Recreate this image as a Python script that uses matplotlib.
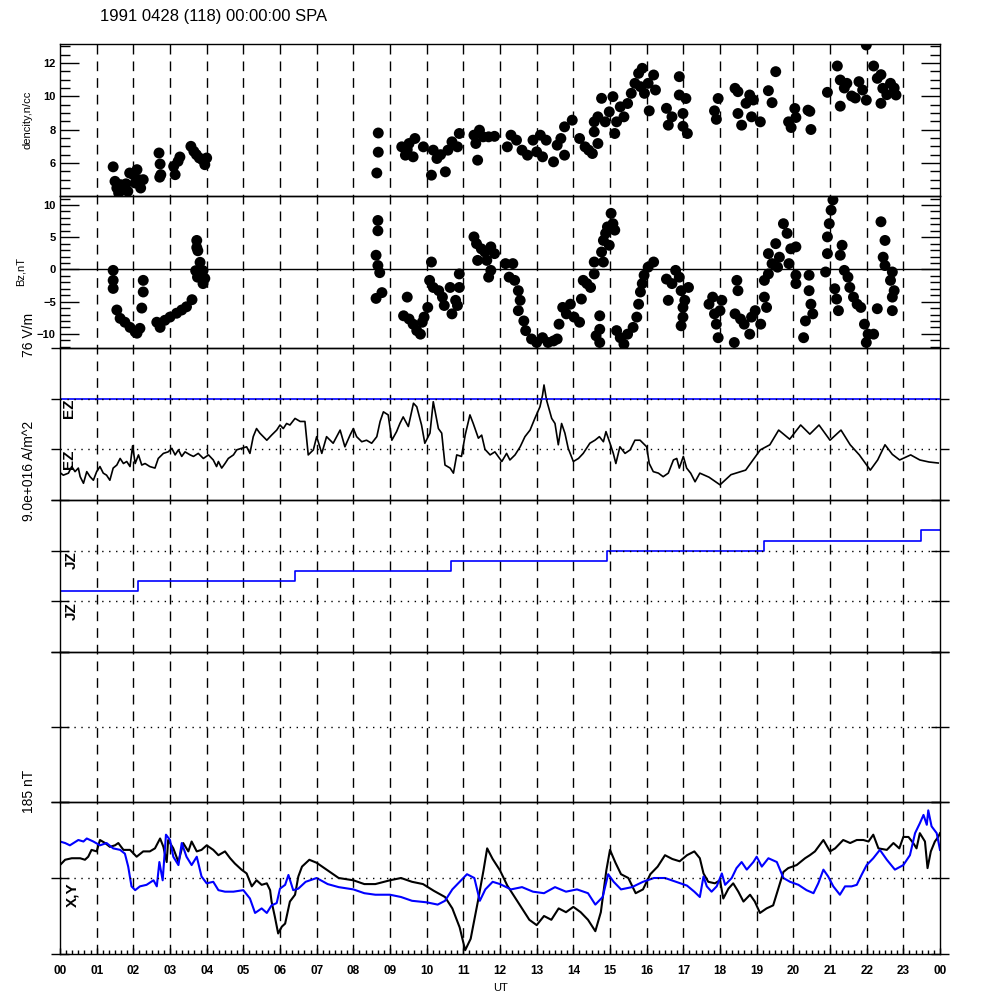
import numpy as np
import matplotlib.pyplot as plt

plt.rcParams['font.family'] = ['Liberation Sans', 'DejaVu Sans']

# ---- data (UT hours) ----
dens_t = [1.45, 1.5, 1.55, 1.6, 1.65, 1.7, 1.8, 1.85, 1.9, 2.0, 2.05, 2.1, 2.15, 2.2, 2.27,
          2.7, 2.73, 2.75, 2.72, 3.1, 3.14, 3.27, 3.22, 3.57, 3.65, 3.72, 3.8, 3.88, 3.95, 4.0,
          8.68, 8.68, 8.64,
          9.32, 9.42, 9.52, 9.68, 9.63, 9.47, 9.91,
          10.13, 10.18, 10.28, 10.38, 10.51, 10.58, 10.69, 10.84, 10.89,
          11.29, 11.34, 11.39, 11.44, 11.54, 11.69, 11.85,
          12.2, 12.3, 12.45, 12.6, 12.75, 12.9, 13.0, 13.1, 13.16, 13.26,
          13.46, 13.56, 13.66, 13.76, 13.76, 13.97,
          14.17, 14.32, 14.42, 14.57, 14.67, 14.52,
          14.57, 14.67, 14.77, 14.87, 14.98, 15.08, 15.13, 15.18, 15.28, 15.38, 15.48, 15.58,
          15.68, 15.78, 15.88, 15.83, 15.94, 16.04, 16.07, 16.19, 16.24,
          16.54, 16.59, 16.69, 16.89, 16.89, 16.99, 16.99, 17.07, 17.11,
          17.85, 17.9, 17.95,
          18.41, 18.49, 18.49, 18.59, 18.71, 18.81, 18.91, 18.86, 19.1,
          19.32, 19.42, 19.52,
          19.87, 19.94, 20.04, 20.07, 20.4, 20.45, 20.48,
          20.93, 21.2, 21.28, 21.28, 21.39, 21.46, 21.59, 21.69, 21.79, 21.89, 21.99, 21.99,
          22.19, 22.29, 22.39, 22.39, 22.44, 22.55, 22.65, 22.75, 22.8]
dens_v = [5.77, 4.9, 4.5, 4.2, 4.7, 4.4, 4.75, 4.3, 5.4, 5.3, 4.8, 5.6, 5.0, 4.5, 5.0,
          6.6, 5.94, 5.3, 5.15, 5.8, 5.3, 6.36, 6.1, 7.0, 6.7, 6.5, 6.3, 6.2, 5.9, 6.3,
          7.8, 6.65, 5.4,
          6.97, 6.47, 7.17, 7.47, 6.37, 6.8, 6.97,
          5.27, 6.77, 6.27, 6.5, 5.47, 6.77, 7.27, 6.97, 7.77,
          7.67, 7.17, 6.17, 7.97, 7.57, 7.57, 7.6,
          6.97, 7.67, 7.37, 6.77, 6.47, 7.37, 6.67, 7.67, 6.37, 7.37,
          6.07, 7.07, 7.47, 8.17, 6.47, 8.57,
          7.47, 6.97, 6.77, 7.87, 7.17, 6.57,
          8.47, 8.77, 9.88, 8.47, 9.07, 9.98, 7.77, 8.47, 9.37, 8.77, 9.57, 10.18,
          10.78, 11.38, 11.68, 10.58, 10.18, 10.78, 9.13, 11.28, 10.38,
          9.28, 8.27, 8.77, 11.18, 10.08, 8.97, 8.2, 9.87, 7.77,
          9.13, 8.62, 9.87,
          10.48, 10.28, 8.97, 8.27, 9.58, 10.08, 9.78, 8.77, 8.47,
          10.34, 9.62, 11.48,
          8.47, 8.13, 9.27, 8.73, 9.17, 9.1, 8.01,
          10.24, 11.82, 10.98, 9.41, 10.5, 10.78, 10.02, 9.9, 10.88, 10.38, 9.77, 13.08,
          11.82, 11.08, 11.3, 9.58, 10.48, 10.1, 10.78, 10.5, 10.08]

bz_t = [1.45, 1.45, 1.45, 1.55, 1.64, 1.77, 1.91, 2.05, 2.18, 2.1, 2.27, 2.27, 2.23,
        2.64, 2.73, 2.86, 3.0, 3.18, 3.32, 3.45, 3.6, 3.7, 3.73, 3.75,
        3.73, 3.76, 3.82, 3.9, 3.95, 3.9,
        8.67, 8.67, 8.62, 8.67, 8.72, 8.62, 8.78,
        9.47, 9.37, 9.52, 9.63, 9.73, 9.83, 9.88, 9.93, 10.03, 10.13, 10.08, 10.18, 10.33,
        10.43, 10.48, 10.64, 10.69, 10.79, 10.84, 10.89, 10.89,
        11.29, 11.36, 11.49, 11.59, 11.64, 11.75, 11.75, 11.69, 11.85, 11.39,
        12.15, 12.35, 12.25, 12.4, 12.5, 12.55, 12.5, 12.65, 12.7, 12.86, 13.0, 13.16,
        13.31, 13.46, 13.56,
        13.61, 13.71, 13.81, 13.92, 14.02, 14.17, 14.22,
        14.27, 14.37, 14.47, 14.57, 14.57, 14.82, 14.72, 14.72, 14.62, 14.72,
        14.77, 14.82, 14.88, 14.93, 15.03, 15.08, 15.13, 14.98,
        15.18, 15.28, 15.38, 15.48, 15.63, 15.73, 15.78, 15.83, 15.88, 15.93, 16.04, 16.19,
        16.54, 16.59, 16.69, 16.79, 16.89, 16.94, 17.04, 16.99, 16.99, 16.94, 17.14,
        17.7, 17.8, 17.85, 17.9, 17.95, 18.05, 18.0,
        18.39, 18.46, 18.49, 18.41, 18.56, 18.66, 18.81, 18.86, 18.96, 19.11, 19.21, 19.27,
        19.21, 19.32, 19.32, 19.42, 19.52, 19.57, 19.62, 19.73, 19.83, 19.93, 19.88, 20.07,
        20.07, 20.07, 20.43, 20.43, 20.48, 20.53, 20.33, 20.28,
        20.88, 20.93, 20.93, 20.98, 21.03, 21.08, 21.13, 21.18, 21.23, 21.28, 21.33, 21.39,
        21.49, 21.54, 21.64, 21.74, 21.84,
        21.94, 22.04, 21.99, 22.19, 22.29, 22.39, 22.5, 22.45, 22.5, 22.65, 22.7, 22.75,
        22.7, 22.7]
bz_v = [-0.15, -1.7, -2.95, -6.3, -7.6, -8.2, -9.0, -9.7, -9.15, -9.9, -1.7, -3.5, -6.0,
        -8.2, -9.0, -7.9, -7.4, -6.8, -6.3, -5.8, -4.7, -0.2, 3.4, -1.2,
        4.5, 2.9, 1.1, -0.2, -1.4, -2.2,
        7.6, 6.0, 2.2, 0.6, -0.5, -4.5, -3.6,
        -4.3, -7.2, -7.7, -8.5, -9.5, -10.05, -8.2, -7.4, -5.9, 1.15, -1.7, -2.8, -3.3,
        -4.3, -5.6, -2.8, -6.9, -4.8, -5.6, -2.8, -0.7,
        5.05, 4.0, 3.2, 2.7, 1.4, 3.5, -0.15, -1.2, 2.45, 1.4,
        0.9, 0.9, -1.2, -1.7, -3.3, -4.8, -6.4, -8.0, -9.5, -10.8, -11.35, -10.6,
        -11.35, -11.1, -10.8,
        -8.5, -5.9, -6.9, -5.4, -7.4, -8.2, -4.6,
        -1.7, -2.2, -2.8, -0.7, 1.15, 1.15, -7.2, -9.3, -10.3, -11.35,
        2.7, 4.5, 5.6, 6.6, 8.7, 7.1, 6.1, 3.75,
        -9.5, -10.6, -11.6, -10.05, -9.0, -7.4, -5.4, -3.5, -2.2, -0.9, 0.35, 1.15,
        -1.5, -4.8, -2.2, -0.15, -1.2, -3.3, -4.8, -5.9, -7.4, -8.75, -2.8,
        -5.4, -4.3, -6.9, -8.5, -10.6, -4.8, -6.4,
        -11.35, -1.7, -3.3, -6.9, -7.7, -8.5, -10.05, -7.4, -6.4, -8.5, -4.3, -5.9,
        -1.7, -0.7, 2.45, 0.9, 4.0, 0.35, 1.9, 7.1, 5.6, 3.2, 0.9, 3.5,
        -0.9, -2.2, -0.9, -3.3, -5.4, -6.9, -8.0, -10.6,
        -0.4, 2.45, 5.05, 7.1, 9.2, 10.8, -3.0, -4.6, -6.4, 2.2, 3.75, -0.15,
        -1.2, -2.8, -4.3, -5.4, -5.9,
        -8.5, -10.05, -11.35, -10.05, -6.1, 7.4, 4.5, 1.9, 0.6, -1.7, -0.4, -3.3,
        -4.3, -6.4]

ez_t = [0.02, 0.09, 0.23, 0.32, 0.41, 0.50, 0.55, 0.64, 0.73, 0.82, 0.91, 1.00, 1.09, 1.18,
        1.27, 1.36, 1.45, 1.55, 1.64, 1.73, 1.82, 1.91, 1.98, 2.05, 2.14, 2.23, 2.32, 2.45,
        2.59, 2.68, 2.82, 2.95, 3.05, 3.14, 3.23, 3.32, 3.41, 3.55, 3.64, 3.77, 3.91, 4.05,
        4.18, 4.27, 4.32, 4.41, 4.50, 4.59, 4.73, 4.82, 4.95, 5.09, 5.18, 5.27, 5.36, 5.45,
        5.64, 5.77, 5.91, 6.00, 6.09, 6.18, 6.27, 6.41, 6.55, 6.68, 6.77, 6.91, 7.00, 7.14,
        7.27, 7.45, 7.64, 7.77, 7.91, 8.00, 8.09, 8.23, 8.36, 8.50, 8.64, 8.73, 8.82, 8.95,
        9.05, 9.18, 9.27, 9.36, 9.5, 9.64, 9.73, 9.86, 9.95, 10.09, 10.18, 10.32, 10.41,
        10.5, 10.64, 10.73, 10.82, 10.95, 11.05, 11.18, 11.27, 11.41, 11.5, 11.59, 11.73,
        11.86, 12.05, 12.18, 12.27, 12.41, 12.55, 12.68, 12.82, 12.95, 13.09, 13.16, 13.2,
        13.27, 13.41, 13.5, 13.59, 13.68, 13.77, 13.86, 14.0, 14.14, 14.27, 14.45, 14.59,
        14.71, 14.82, 14.89, 15.0, 15.09, 15.16, 15.27, 15.41, 15.55, 15.68, 15.82, 16.0,
        16.07, 16.18, 16.32, 16.45, 16.59, 16.73, 16.82, 16.89, 17.0, 17.09, 17.2, 17.32,
        17.45, 17.7, 18.0, 18.3, 18.7, 19.1, 19.36, 19.6, 19.9, 20.2, 20.45, 20.7, 21.0,
        21.3, 21.55, 21.8, 22.1, 22.3, 22.5, 22.7, 22.9, 23.2, 23.45, 23.7, 23.95]
ez_v = [0.53, 0.49, 0.53, 0.66, 0.56, 0.63, 0.46, 0.33, 0.56, 0.46, 0.39, 0.56, 0.66, 0.53,
        0.49, 0.39, 0.63, 0.69, 0.82, 0.72, 0.76, 0.66, 1.07, 0.72, 0.89, 0.69, 0.72, 0.66,
        0.63, 0.82, 0.92, 0.95, 1.02, 0.89, 0.99, 0.86, 0.95, 0.89, 0.86, 0.92, 0.82, 0.89,
        0.79, 0.66, 0.76, 0.63, 0.72, 0.82, 0.89, 0.99, 1.02, 1.05, 0.92, 1.25, 1.41, 1.32,
        1.18, 1.28, 1.38, 1.48, 1.41, 1.51, 1.48, 1.61, 1.55, 1.55, 0.89, 0.99, 1.25, 0.92,
        1.25, 1.12, 1.38, 1.05, 1.28, 1.41, 1.25, 1.15, 1.18, 1.12, 1.25, 1.55, 1.74, 1.68,
        1.18, 1.35, 1.51, 1.64, 1.45, 1.91, 1.84, 1.48, 1.12, 1.32, 1.94, 1.41, 1.32,
        0.69, 0.63, 0.53, 0.89, 0.86, 1.28, 1.68, 1.51, 1.22, 1.28, 1.0, 0.89,
        0.95, 0.76, 0.92, 0.79, 0.89, 1.05, 1.25, 1.38, 1.61, 1.84, 2.07, 2.27,
        1.97, 1.61, 1.51, 1.09, 1.51, 1.32, 1.02, 0.76, 0.82, 0.92, 1.12, 1.18,
        1.25, 1.15, 1.35, 1.12, 0.92, 0.72, 1.05, 0.92, 0.99, 1.18, 1.18, 1.05,
        0.72, 0.56, 0.53, 0.46, 0.53, 0.79, 0.82, 0.63, 0.86, 0.63, 0.53, 0.36,
        0.53, 0.45, 0.3, 0.5, 0.59, 0.99, 1.09, 1.38, 1.2, 1.48, 1.3, 1.48, 1.18,
        1.38, 1.09, 0.89, 0.59, 0.79, 1.09, 0.9, 0.79, 0.89, 0.79, 0.75, 0.73]

jz_t = [0, 2.13, 6.4, 10.67, 14.93, 19.2, 23.47, 24]
jz_v = [1.2, 1.4, 1.6, 1.8, 2.0, 2.2, 2.4, 2.4]

x_t = [0, 0.14, 0.32, 0.55, 0.68, 0.77, 0.86, 1.0, 1.09, 1.23, 1.36, 1.5, 1.59, 1.73, 1.91,
       2.09, 2.27, 2.45, 2.59, 2.73, 2.82, 2.91, 2.95, 3.09, 3.23, 3.36, 3.5, 3.59, 3.73,
       3.86, 4.0, 4.18, 4.32, 4.5, 4.64, 4.77, 4.95, 5.09, 5.23, 5.36, 5.5, 5.64, 5.73, 5.77,
       5.86, 5.95, 6.05, 6.14, 6.27, 6.41, 6.5, 6.6, 6.8, 7.0, 7.3, 7.6, 8.0, 8.3, 8.6, 9.0,
       9.3, 9.6, 9.9, 10.2, 10.5, 10.7, 10.9, 11.05, 11.2, 11.4, 11.55, 11.65, 11.8, 12.0,
       12.2, 12.4, 12.6, 12.8, 13.0, 13.2, 13.4, 13.6, 13.8, 14.0, 14.2, 14.4, 14.6, 14.75,
       14.9, 15.0, 15.15, 15.3, 15.5, 15.7, 15.9, 16.1, 16.3, 16.5, 16.7, 16.9, 17.1, 17.3,
       17.45, 17.55, 17.68, 17.86, 18.0, 18.09, 18.23, 18.36, 18.5, 18.64,
       18.82, 18.95, 19.09, 19.27, 19.45, 19.59, 19.73, 19.86, 20.09, 20.32, 20.45, 20.59,
       20.82, 21.0, 21.14, 21.36, 21.55, 21.73, 21.91, 22.05, 22.18, 22.32, 22.55, 22.73,
       22.89, 23.0, 23.14, 23.27, 23.36, 23.45, 23.59, 23.66, 23.75, 23.86, 23.95, 24.0]
x_v = [1.17, 1.24, 1.26, 1.26, 1.24, 1.28, 1.37, 1.35, 1.5, 1.46, 1.41, 1.43, 1.46, 1.37, 1.37,
       1.28, 1.35, 1.35, 1.39, 1.52, 1.41, 1.21, 1.5, 1.39, 1.21, 1.46, 1.35, 1.48, 1.35,
       1.37, 1.43, 1.37, 1.3, 1.35, 1.26, 1.19, 1.11, 1.06, 0.89, 0.97, 0.91, 0.93, 0.84, 0.69,
       0.49, 0.27, 0.36, 0.4, 0.69, 0.78, 1.02, 1.15, 1.24, 1.2, 1.1, 1.0, 0.97, 0.92, 0.92, 0.97,
       1.0, 0.95, 0.92, 0.83, 0.75, 0.6, 0.35, 0.05, 0.2, 0.7, 1.1, 1.39, 1.25, 1.1,
       0.9, 0.75, 0.6, 0.45, 0.38, 0.5, 0.45, 0.6, 0.55, 0.62, 0.55, 0.45, 0.3, 0.55,
       1.1, 1.37, 1.2, 1.05, 1.0, 0.8, 0.85, 1.05, 1.15, 1.3, 1.25, 1.22, 1.3, 1.35,
       1.26, 1.06, 0.95, 0.93, 0.97, 0.73, 0.86, 0.93, 0.82, 0.69,
       0.78, 0.69, 0.54, 0.6, 0.64, 0.86, 1.08, 1.13, 1.17, 1.26, 1.3, 1.35,
       1.5, 1.35, 1.39, 1.5, 1.46, 1.5, 1.5, 1.48, 1.57, 1.39, 1.37, 1.46,
       1.39, 1.54, 1.54, 1.46, 1.39, 1.59, 1.48, 1.13, 1.35, 1.48, 1.54, 1.59]

y_t = [0, 0.14, 0.27, 0.5, 0.64, 0.73, 0.91, 1.09, 1.27, 1.45, 1.64, 1.77, 1.86, 1.95, 2.05,
       2.18, 2.36, 2.55, 2.64, 2.71, 2.8, 2.89, 3.0, 3.09, 3.23, 3.32, 3.45, 3.59, 3.73, 3.86,
       4.0, 4.18, 4.32, 4.5, 4.73, 5.0, 5.18, 5.32, 5.5, 5.64, 5.77, 5.91, 6.0, 6.14, 6.23,
       6.36, 6.5, 6.7, 7.0, 7.3, 7.6, 8.0, 8.3, 8.6, 9.0, 9.3, 9.6, 10.0, 10.3, 10.5, 10.7,
       10.9, 11.1, 11.3, 11.45, 11.6, 11.8, 12.0, 12.3, 12.6, 12.9, 13.2, 13.5, 13.8, 14.1,
       14.4, 14.6, 14.8, 14.95, 15.1, 15.3, 15.6, 15.9, 16.2, 16.5, 16.8, 17.1, 17.3,
       17.45, 17.55, 17.64, 17.77,
       17.91, 18.05, 18.14, 18.32, 18.45, 18.59, 18.73, 18.91, 19.0, 19.14, 19.32, 19.55,
       19.73, 19.91, 20.14, 20.36, 20.55, 20.68, 20.82, 20.95, 21.09, 21.27, 21.41, 21.59,
       21.73, 21.86, 22.0, 22.18, 22.36, 22.55, 22.77, 23.0, 23.18, 23.32, 23.45, 23.55,
       23.64, 23.68, 23.77, 23.91, 24.0]
y_v = [1.48, 1.46, 1.43, 1.5, 1.48, 1.52, 1.48, 1.43, 1.46, 1.39, 1.37, 1.32, 1.15, 0.89, 0.84,
       0.89, 0.91, 0.97, 0.89, 1.21, 0.97, 1.57, 1.5, 1.28, 1.17, 1.46, 1.28, 1.17, 1.28, 1.02,
       0.93, 0.95, 0.84, 0.82, 0.82, 0.84, 0.73, 0.54, 0.6, 0.54, 0.64, 0.67, 0.86, 0.91, 1.04,
       0.84, 0.86, 0.95, 1.0, 0.92, 0.88, 0.85, 0.8, 0.78, 0.78, 0.75, 0.7, 0.68, 0.65, 0.7, 0.85,
       0.95, 1.05, 1.0, 0.7, 0.85, 0.95, 0.92, 0.85, 0.88, 0.82, 0.8, 0.88, 0.82, 0.85,
       0.8, 0.65, 0.75, 1.05, 0.95, 0.85, 0.88, 0.95, 1.0, 1.0, 0.95, 0.9, 0.82,
       0.75, 1.02, 0.89, 0.82,
       0.89, 1.06, 0.91, 1.0, 1.13, 1.21, 1.11, 1.21, 1.28, 1.15, 1.26, 1.21,
       1.0, 0.95, 0.91, 0.84, 0.8, 0.93, 1.11, 1.02, 0.89, 0.78, 0.89, 0.89,
       0.91, 1.04, 1.17, 1.26, 1.37, 1.24, 1.11, 1.17, 1.3, 1.59, 1.72, 1.83,
       1.7, 1.89, 1.68, 1.59, 1.37]

hour_labels = ['%02d' % (h % 24) for h in range(25)]

# ---- figure ----
fig = plt.figure(figsize=(10, 10), dpi=100)
L, W = 0.06, 0.88


def fy(y):
    return 1 - y / 1000.0


# dashed hour lines running through all panels
bg = fig.add_axes([L, fy(954), W, 0.910], zorder=0)
bg.set_xlim(0, 24)
bg.axis('off')
for h in range(1, 24):
    bg.axvline(h, color='k', lw=1.0, dashes=(7, 5))

panels = [(196, 0.152), (348, 0.152), (500, 0.152), (652, 0.152), (802, 0.150), (954, 0.152)]
axs = []
for bot, hgt in panels:
    ax = fig.add_axes([L, fy(bot), W, hgt], zorder=1)
    ax.set_facecolor('none')
    ax.set_xlim(0, 24)
    ax.tick_params(axis='x', which='both', bottom=False, top=False, labelbottom=False)
    for s in ax.spines.values():
        s.set_linewidth(1.0)
    axs.append(ax)
ax1, ax2, ax3, ax4, ax5, ax6 = axs

# density
ax1.scatter(dens_t, dens_v, s=62, c='k', edgecolors='none', zorder=3)
ax1.set_ylim(4.02, 13.14)
ax1.set_yticks([6, 8, 10, 12])
ax1.set_yticks(np.arange(4.5, 13.1, 0.5), minor=True)
ax1.set_ylabel('dencity,n/cc', fontsize=8, labelpad=8)

# Bz
ax2.scatter(bz_t, bz_v, s=62, c='k', edgecolors='none', zorder=3)
ax2.axhline(0, color='k', lw=1.0)
ax2.set_ylim(-12.2, 11.4)
ax2.set_yticks([-10, -5, 0, 5, 10])
ax2.set_yticks(np.arange(-12, 12, 1), minor=True)
ax2.set_ylabel('Bz,nT', fontsize=8, labelpad=8)

for ax in (ax1, ax2):
    ax.tick_params(axis='y', which='major', direction='in', length=13.5, width=1,
                   left=True, right=True, labelsize=8, pad=3)
    ax.tick_params(axis='y', which='minor', direction='in', length=7, width=1,
                   left=True, right=True)
    for lab in ax.get_yticklabels():
        lab.set_fontweight('bold')

# EZ
ax3.plot(ez_t, ez_v, color='k', lw=1.2)
ax3.axhline(2, color='#0000ff', lw=1.2)
for v in (1, 2):
    ax3.axhline(v, color='k', lw=1.0, dashes=(1, 4))
ax3.set_ylim(0, 3)
ax3.set_yticks([0, 1, 2, 3])
ax3.tick_params(axis='y', direction='out', length=6.5, width=1, left=True, right=True,
                labelleft=False)

# JZ
ax4.step(jz_t, jz_v, where='post', color='#0000ff', lw=1.2)
for v in (1, 2):
    ax4.axhline(v, color='k', lw=1.0, dashes=(1, 4))
ax4.set_ylim(0, 3)
ax4.set_yticks([0, 1, 2, 3])

# empty panel
ax5.axhline(1, color='k', lw=1.0, dashes=(1, 4))
ax5.set_ylim(0, 2)
ax5.set_yticks([0, 1, 2])

# X,Y
ax6.plot(x_t, x_v, color='k', lw=1.5)
ax6.plot(y_t, y_v, color='#0000ff', lw=1.5)
ax6.axhline(1, color='k', lw=1.0, dashes=(1, 4))
ax6.set_ylim(0, 2)
ax6.set_yticks([0, 1, 2])

for ax in (ax4, ax5, ax6):
    ax.tick_params(axis='y', direction='inout', length=13.5, width=1, left=True, right=True,
                   labelleft=False)

ax6.set_xticks(range(25))
ax6.set_xticklabels(hour_labels)
ax6.set_xticks(np.arange(0, 24.01, 1 / 6.0), minor=True)
ax6.tick_params(axis='x', which='major', bottom=True, direction='in', length=4, width=1,
                labelbottom=True, labelsize=8.5, pad=8)
ax6.tick_params(axis='x', which='minor', bottom=True, direction='in', length=3, width=1)
for lab in ax6.get_xticklabels():
    lab.set_fontweight('bold')
ax6.set_xlabel('UT', fontsize=8, labelpad=4)

# panel labels
lab_kw = dict(rotation=90, fontsize=10, ha='center', va='bottom')
fig.text(29 / 1000, fy(357), '76 V/m', **lab_kw)
fig.text(29 / 1000, fy(521), '9.0e+016 A/m^2', **lab_kw)
fig.text(29 / 1000, fy(813), '185 nT', **lab_kw)

in_kw = dict(rotation=90, fontsize=11, fontweight='bold', ha='center', va='top')
fig.text(69 / 1000, fy(399), 'EZ', **in_kw)
fig.text(69 / 1000, fy(449), 'EZ', **in_kw)
fig.text(72 / 1000, fy(551), 'JZ', **in_kw)
fig.text(72 / 1000, fy(602), 'JZ', **in_kw)
fig.text(72 / 1000, fy(882), 'X,Y', **in_kw)

fig.text(100 / 1000, fy(21), '1991 0428 (118) 00:00:00 SPA', fontsize=12, ha='left',
         va='baseline')

fig.savefig('out.png', dpi=100)
